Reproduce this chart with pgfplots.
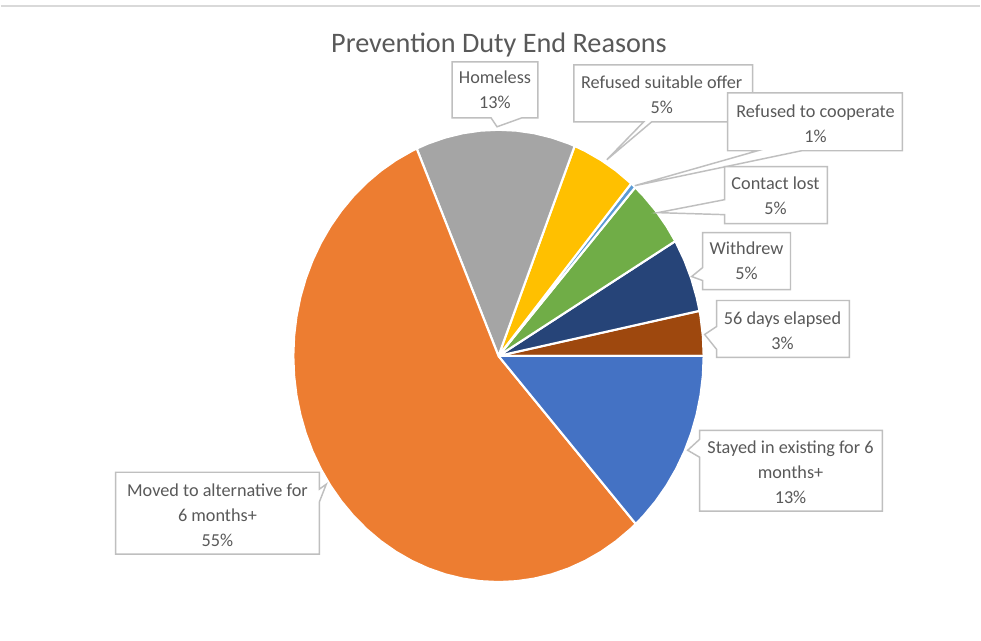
\documentclass[border=0pt]{standalone}
\usepackage{pgfplots}
\pgfplotsset{compat=1.18}
\usepackage{fontspec}
\setmainfont{Carlito}
\definecolor{cStay}{HTML}{4472C4}
\definecolor{cMove}{HTML}{ED7D31}
\definecolor{cHome}{HTML}{A5A5A5}
\definecolor{cOffer}{HTML}{FFC000}
\definecolor{cCoop}{HTML}{5B9BD5}
\definecolor{cLost}{HTML}{70AD47}
\definecolor{cWith}{HTML}{264478}
\definecolor{cDays}{HTML}{9E480E}
\definecolor{txt}{HTML}{595959}
\definecolor{boxc}{HTML}{BFBFBF}
\definecolor{topline}{HTML}{D9D9D9}
% wedge outline tables: angle a (degrees, counter-clockwise from east), r = 0 (centre) or 1 (rim)
% shares: 56 days 3.2, Withdrew 5.3, Contact lost 4.9, Refused to cooperate 0.4,
% Refused suitable offer 5.1, Homeless 12.6, Moved 55.1, Stayed 13.3 (percent)
\newcommand\wx{498.5+205.5*\thisrow{r}*cos(\thisrow{a})}
\newcommand\wy{356.5-226.5*\thisrow{r}*sin(\thisrow{a})}
\begin{document}
\begin{tikzpicture}[
  pie/.style={draw=white, line width=1.6pt, line join=round},
  lbl/.style={font=\fontsize{13.7pt}{18.75pt}\selectfont, text=txt, align=center, inner sep=0pt},
  cbox/.style={draw=boxc, fill=white, line width=1.1pt, line join=miter}]
\begin{axis}[scale only axis, width=735.75pt, height=481.5pt,
  xmin=0, xmax=981, ymin=0, ymax=642, y dir=reverse, hide axis, clip=false]
\fill[white] (axis cs:0,0) rectangle (axis cs:981,642);
\draw[topline, line width=1.2pt] (axis cs:0,6) -- (axis cs:981,6);
% 56 days elapsed
\addplot[fill=cDays, pie] table[row sep=\\, x expr=\wx, y expr=\wy] {a r\\ 0 0\\ 0 1\\ 5 1\\ 10 1\\ 11.5 1\\ 0 0\\};
% Withdrew
\addplot[fill=cWith, pie] table[row sep=\\, x expr=\wx, y expr=\wy] {a r\\ 0 0\\ 11.5 1\\ 15 1\\ 20 1\\ 25 1\\ 30 1\\ 30.5 1\\ 0 0\\};
% Contact lost
\addplot[fill=cLost, pie] table[row sep=\\, x expr=\wx, y expr=\wy] {a r\\ 0 0\\ 30.5 1\\ 35 1\\ 40 1\\ 45 1\\ 48.2 1\\ 0 0\\};
% Refused to cooperate
\addplot[fill=cCoop, pie] table[row sep=\\, x expr=\wx, y expr=\wy] {a r\\ 0 0\\ 48.2 1\\ 49 1\\ 49.7 1\\ 0 0\\};
% Refused suitable offer
\addplot[fill=cOffer, pie] table[row sep=\\, x expr=\wx, y expr=\wy] {a r\\ 0 0\\ 49.7 1\\ 55 1\\ 60 1\\ 65 1\\ 68.2 1\\ 0 0\\};
% Homeless
\addplot[fill=cHome, pie] table[row sep=\\, x expr=\wx, y expr=\wy] {a r\\ 0 0\\ 68.2 1\\ 70 1\\ 75 1\\ 80 1\\ 85 1\\ 90 1\\ 95 1\\ 100 1\\ 105 1\\ 110 1\\ 113.5 1\\ 0 0\\};
% Moved to alternative for 6 months+
\addplot[fill=cMove, pie] table[row sep=\\, x expr=\wx, y expr=\wy] {a r\\ 0 0\\ 113.5 1\\ 115 1\\ 120 1\\ 125 1\\ 130 1\\ 135 1\\ 140 1\\ 145 1\\ 150 1\\ 155 1\\ 160 1\\ 165 1\\ 170 1\\ 175 1\\ 180 1\\ 185 1\\ 190 1\\ 195 1\\ 200 1\\ 205 1\\ 210 1\\ 215 1\\ 220 1\\ 225 1\\ 230 1\\ 235 1\\ 240 1\\ 245 1\\ 250 1\\ 255 1\\ 260 1\\ 265 1\\ 270 1\\ 275 1\\ 280 1\\ 285 1\\ 290 1\\ 295 1\\ 300 1\\ 305 1\\ 310 1\\ 312 1\\ 0 0\\};
% Stayed in existing for 6 months+
\addplot[fill=cStay, pie] table[row sep=\\, x expr=\wx, y expr=\wy] {a r\\ 0 0\\ 312 1\\ 315 1\\ 320 1\\ 325 1\\ 330 1\\ 335 1\\ 340 1\\ 345 1\\ 350 1\\ 355 1\\ 360 1\\ 0 0\\};
% title
\node[font=\fontsize{21.2pt}{25pt}\selectfont, text=txt, inner sep=0pt] at (axis cs:499,45) {Prevention Duty End Reasons};
% callouts
\draw[cbox] (axis cs:452,62) -- (axis cs:538,62) -- (axis cs:538,118) -- (axis cs:522,118) -- (axis cs:497,127) -- (axis cs:491,118) -- (axis cs:452,118) -- cycle;
\node[lbl] at (axis cs:495,90) {Homeless\\13\%};
\draw[cbox] (axis cs:574,65) -- (axis cs:753,65) -- (axis cs:753,122) -- (axis cs:652,122) -- (axis cs:607,160) -- (axis cs:644,122) -- (axis cs:574,122) -- cycle;
\node[lbl] at (axis cs:662,95) {Refused suitable offer\\5\%};
\draw[cbox] (axis cs:728,93) -- (axis cs:903,93) -- (axis cs:903,151) -- (axis cs:802,151) -- (axis cs:635,186) -- (axis cs:758,151) -- (axis cs:728,151) -- cycle;
\node[lbl] at (axis cs:816,124) {Refused to cooperate\\1\%};
\draw[cbox] (axis cs:725,167) -- (axis cs:828,167) -- (axis cs:828,224) -- (axis cs:725,224) -- (axis cs:725,215) -- (axis cs:658,213) -- (axis cs:725,200) -- cycle;
\node[lbl] at (axis cs:776,196) {Contact lost\\5\%};
\draw[cbox] (axis cs:703,233) -- (axis cs:791,233) -- (axis cs:791,290) -- (axis cs:703,290) -- (axis cs:703,281) -- (axis cs:692,277) -- (axis cs:703,268) -- cycle;
\node[lbl] at (axis cs:747,261.5) {Withdrew\\5\%};
\draw[cbox] (axis cs:717,301) -- (axis cs:850,301) -- (axis cs:850,358) -- (axis cs:717,358) -- (axis cs:717,350) -- (axis cs:705,335) -- (axis cs:717,327) -- cycle;
\node[lbl] at (axis cs:783,331.5) {56 days elapsed\\3\%};
\draw[cbox] (axis cs:700,431) -- (axis cs:883,431) -- (axis cs:883,512) -- (axis cs:700,512) -- (axis cs:700,458) -- (axis cs:688,451) -- (axis cs:700,440) -- cycle;
\node[lbl] at (axis cs:791,473) {Stayed in existing for 6\\months+\\13\%};
\draw[cbox] (axis cs:115,473) -- (axis cs:319,473) -- (axis cs:319,490) -- (axis cs:326,485) -- (axis cs:319,503) -- (axis cs:319,555) -- (axis cs:115,555) -- cycle;
\node[lbl] at (axis cs:217,516) {Moved to alternative for\\6 months+\\55\%};
\end{axis}
\end{tikzpicture}
\end{document}
